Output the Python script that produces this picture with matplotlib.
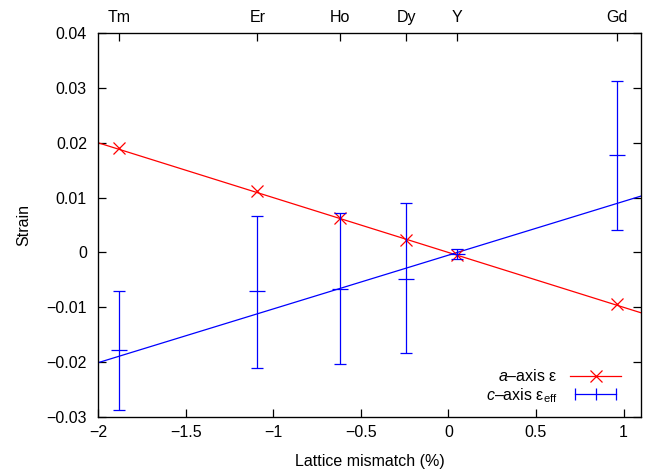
import matplotlib.pyplot as plt
import numpy as np
from matplotlib.lines import Line2D
from matplotlib.legend_handler import HandlerLine2D

plt.rcParams['font.family'] = ['Liberation Sans', 'DejaVu Sans']
plt.rcParams['mathtext.fontset'] = 'custom'
plt.rcParams['mathtext.it'] = 'Liberation Sans:italic'
plt.rcParams['mathtext.rm'] = 'Liberation Sans'

# rare-earth substrates and their lattice mismatch (%)
elements = ['Tm', 'Er', 'Ho', 'Dy', 'Y', 'Gd']
mismatch = [-1.88, -1.09, -0.62, -0.24, 0.05, 0.965]

# a-axis strain
a_strain = [0.0191, 0.0112, 0.0062, 0.0023, -0.0005, -0.0094]

# c-axis effective strain with lower / upper error limits
c_strain = [-0.0178, -0.0071, -0.0066, -0.0048, -0.0003, 0.0177]
c_low = [-0.0287, -0.0210, -0.0203, -0.0184, -0.0012, 0.0041]
c_high = [-0.0071, 0.0066, 0.0072, 0.0090, 0.0006, 0.0313]

# linear fits (slope, intercept)
a_fit = (-0.0100, 0.0000)
c_fit = (0.0098, -0.0005)

x = np.array(mismatch)
c = np.array(c_strain)
yerr = [c - np.array(c_low), np.array(c_high) - c]

fig = plt.figure(figsize=(6.46, 4.71), dpi=100)
ax = fig.add_axes([0.1517, 0.1146, 0.8406, 0.8153])

xlim = (-2, 1.1)
xx = np.array(xlim)
ax.plot(xx, a_fit[0] * xx + a_fit[1], color='red', lw=0.9)
ax.plot(xx, c_fit[0] * xx + c_fit[1], color='blue', lw=0.9)

ax.plot(x, a_strain, ls='none', marker='x', ms=9, mew=0.9, color='red')
ax.errorbar(x, c, yerr=yerr, fmt='none', ecolor='blue', elinewidth=0.9,
            capsize=4, capthick=0.9)
ax.plot(x, c, ls='none', marker='_', ms=12, mew=0.9, color='blue')

ax.set_xlim(*xlim)
ax.set_ylim(-0.03, 0.04)
ax.set_xticks([-2, -1.5, -1, -0.5, 0, 0.5, 1])
ax.set_xticklabels(['\u22122', '\u22121.5', '\u22121', '\u22120.5', '0', '0.5', '1'])
yt = [-0.03, -0.02, -0.01, 0, 0.01, 0.02, 0.03, 0.04]
ax.set_yticks(yt)
ax.set_yticklabels([('\u2212' if v < 0 else '') + ('0' if v == 0 else f'{abs(v):.2f}') for v in yt])
ax.tick_params(direction='in', length=6, width=0.9, labelsize=11.5,
               right=True, top=False)
ax.tick_params(axis='y', pad=8)
ax.tick_params(axis='x', pad=6)
for s in ax.spines.values():
    s.set_linewidth(0.9)

# element names along the top
top = ax.twiny()
top.set_xlim(*xlim)
top.set_xticks(mismatch)
top.set_xticklabels(elements)
top.tick_params(direction='in', length=6, width=0.9, labelsize=11.5, pad=6)

ax.set_xlabel('Lattice mismatch (%)', fontsize=11.5, labelpad=10)
ax.set_ylabel('Strain', fontsize=11.5, labelpad=11)

h_a = Line2D([], [], color='red', lw=0.9, marker='x', ms=9, mew=0.9)
h_c = Line2D([], [], color='blue', lw=0.9, marker='|', ms=9, mew=0.9)
ax.legend([h_a, h_c], [r'$\it{a}$–axis ε', r'$\it{c}$–axis ε$_{\rm eff}$'],
          loc='lower right', bbox_to_anchor=(0.99, -0.005), frameon=False,
          markerfirst=False, handlelength=3.2, fontsize=11.5,
          labelspacing=0.1, handletextpad=0.8,
          handler_map={h_c: HandlerLine2D(numpoints=3)})

fig.savefig('out.png', dpi=100)
